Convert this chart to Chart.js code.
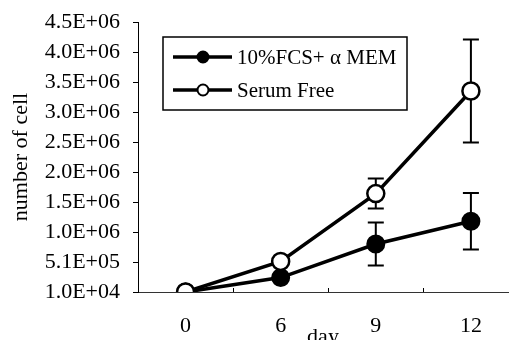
<!DOCTYPE html>
<html>
<head>
<meta charset="utf-8">
<script src="https://cdn.jsdelivr.net/npm/chart.js@4"></script>
<style>
  html, body { margin: 0; padding: 0; background: #fff; overflow: hidden; }
</style>
</head>
<body>
<canvas id="cellChart" width="519" height="340"></canvas>
<script>
// data
const days = ['0', '6', '9', '12'];
const fcsCells = [1.0e4, 2.5e5, 8.1e5, 1.19e6];
const fcsSd = [0, 0, 3.6e5, 4.7e5];
const freeCells = [1.0e4, 5.2e5, 1.65e6, 3.36e6];
const freeSd = [0, 0, 2.5e5, 8.6e5];
const yTicks = [1.0e4, 5.1e5, 1.01e6, 1.51e6, 2.01e6, 2.51e6, 3.01e6, 3.51e6, 4.01e6, 4.51e6];
const seriesNames = ['10%FCS+ α MEM', 'Serum Free'];

const serif = "'Liberation Serif', 'DejaVu Serif', serif";
Chart.defaults.font.family = serif;
Chart.defaults.font.size = 22;
Chart.defaults.color = '#000';

function sciLabel(v) {
  let parts = v.toExponential(1).split('e');
  let exp = parts[1];
  return parts[0] + 'E' + exp[0] + exp.slice(1).padStart(2, '0');
}

// error bars go under the markers
const errorBars = {
  id: 'errorBars',
  beforeDatasetsDraw(chart) {
    const ctx = chart.ctx;
    const yScale = chart.scales.y;
    ctx.save();
    ctx.strokeStyle = '#000';
    ctx.lineWidth = 2;
    chart.data.datasets.forEach((ds, i) => {
      const meta = chart.getDatasetMeta(i);
      ds.sd.forEach((sd, j) => {
        if (!sd) return;
        const px = meta.data[j].x;
        const hi = yScale.getPixelForValue(ds.data[j].y + sd);
        const lo = yScale.getPixelForValue(ds.data[j].y - sd);
        ctx.beginPath();
        ctx.moveTo(px, hi); ctx.lineTo(px, lo);
        ctx.moveTo(px - 8, hi); ctx.lineTo(px + 8, hi);
        ctx.moveTo(px - 8, lo); ctx.lineTo(px + 8, lo);
        ctx.stroke();
      });
    });
    ctx.restore();
  }
};

// boxed legend inside the plot + small ticks between days
const boxLegend = {
  id: 'boxLegend',
  afterDraw(chart) {
    const ctx = chart.ctx;
    const xScale = chart.scales.x;
    const bottom = chart.chartArea.bottom;
    ctx.save();
    ctx.strokeStyle = '#000';
    ctx.lineWidth = 1;
    [0.5, 1.5, 2.5].forEach(v => {
      const px = Math.round(xScale.getPixelForValue(v)) + 0.5;
      ctx.beginPath();
      ctx.moveTo(px, bottom);
      ctx.lineTo(px, bottom - 4);
      ctx.stroke();
    });

    ctx.lineWidth = 1.5;
    ctx.strokeRect(163, 37, 244, 73);
    const rows = [57, 90];
    chart.data.datasets.forEach((ds, i) => {
      const y = rows[i];
      ctx.lineWidth = 3.5;
      ctx.beginPath();
      ctx.moveTo(173, y);
      ctx.lineTo(232, y);
      ctx.stroke();
      ctx.beginPath();
      ctx.arc(203, y, 5.5, 0, Math.PI * 2);
      ctx.fillStyle = ds.pointBackgroundColor;
      ctx.fill();
      ctx.lineWidth = 2;
      ctx.stroke();
      ctx.fillStyle = '#000';
      ctx.font = '21px ' + serif;
      ctx.textBaseline = 'middle';
      ctx.fillText(seriesNames[i], 237, y + 1);
    });
    ctx.restore();
  }
};

const ctx = document.getElementById('cellChart').getContext('2d');
new Chart(ctx, {
  type: 'line',
  data: {
    datasets: [{
      label: seriesNames[0],
      data: fcsCells.map((v, i) => ({ x: i, y: v })),
      sd: fcsSd,
      borderColor: '#000',
      borderWidth: 3.5,
      pointRadius: 8.5,
      pointBorderWidth: 2,
      pointBorderColor: '#000',
      pointBackgroundColor: '#000',
      order: 1
    }, {
      label: seriesNames[1],
      data: freeCells.map((v, i) => ({ x: i, y: v })),
      sd: freeSd,
      borderColor: '#000',
      borderWidth: 3.5,
      pointRadius: 8.5,
      pointBorderWidth: 2.5,
      pointBorderColor: '#000',
      pointBackgroundColor: '#fff',
      order: 0
    }]
  },
  options: {
    responsive: false,
    animation: false,
    layout: { padding: { top: 22, right: 0, left: 0, bottom: 0 } },
    plugins: { legend: { display: false }, tooltip: { enabled: false } },
    scales: {
      x: {
        type: 'linear',
        min: -0.5,
        max: 3.39,
        afterBuildTicks: (scale) => { scale.ticks = days.map((d, i) => ({ value: i })); },
        afterFit: (scale) => { scale.height = 48; scale.paddingLeft = 0; scale.paddingRight = 0; },
        ticks: { padding: 21, callback: (v) => days[v] },
        grid: { drawOnChartArea: false, drawTicks: false },
        border: { color: '#333', width: 1 },
        title: { display: true, text: 'day', padding: { top: 0, bottom: -10 } }
      },
      y: {
        min: 1.0e4,
        max: 4.51e6,
        afterBuildTicks: (scale) => { scale.ticks = yTicks.map(v => ({ value: v })); },
        afterFit: (scale) => { scale.width = 138; scale.paddingTop = 0; scale.paddingBottom = 0; },
        ticks: { padding: 13, callback: (v) => sciLabel(v) },
        grid: { drawOnChartArea: false, tickLength: 5, color: '#000' },
        border: { color: '#000', width: 1 },
        title: { display: true, text: 'number of cell', padding: { top: 8, bottom: 0 } }
      }
    }
  },
  plugins: [errorBars, boxLegend]
});
</script>
</body>
</html>
